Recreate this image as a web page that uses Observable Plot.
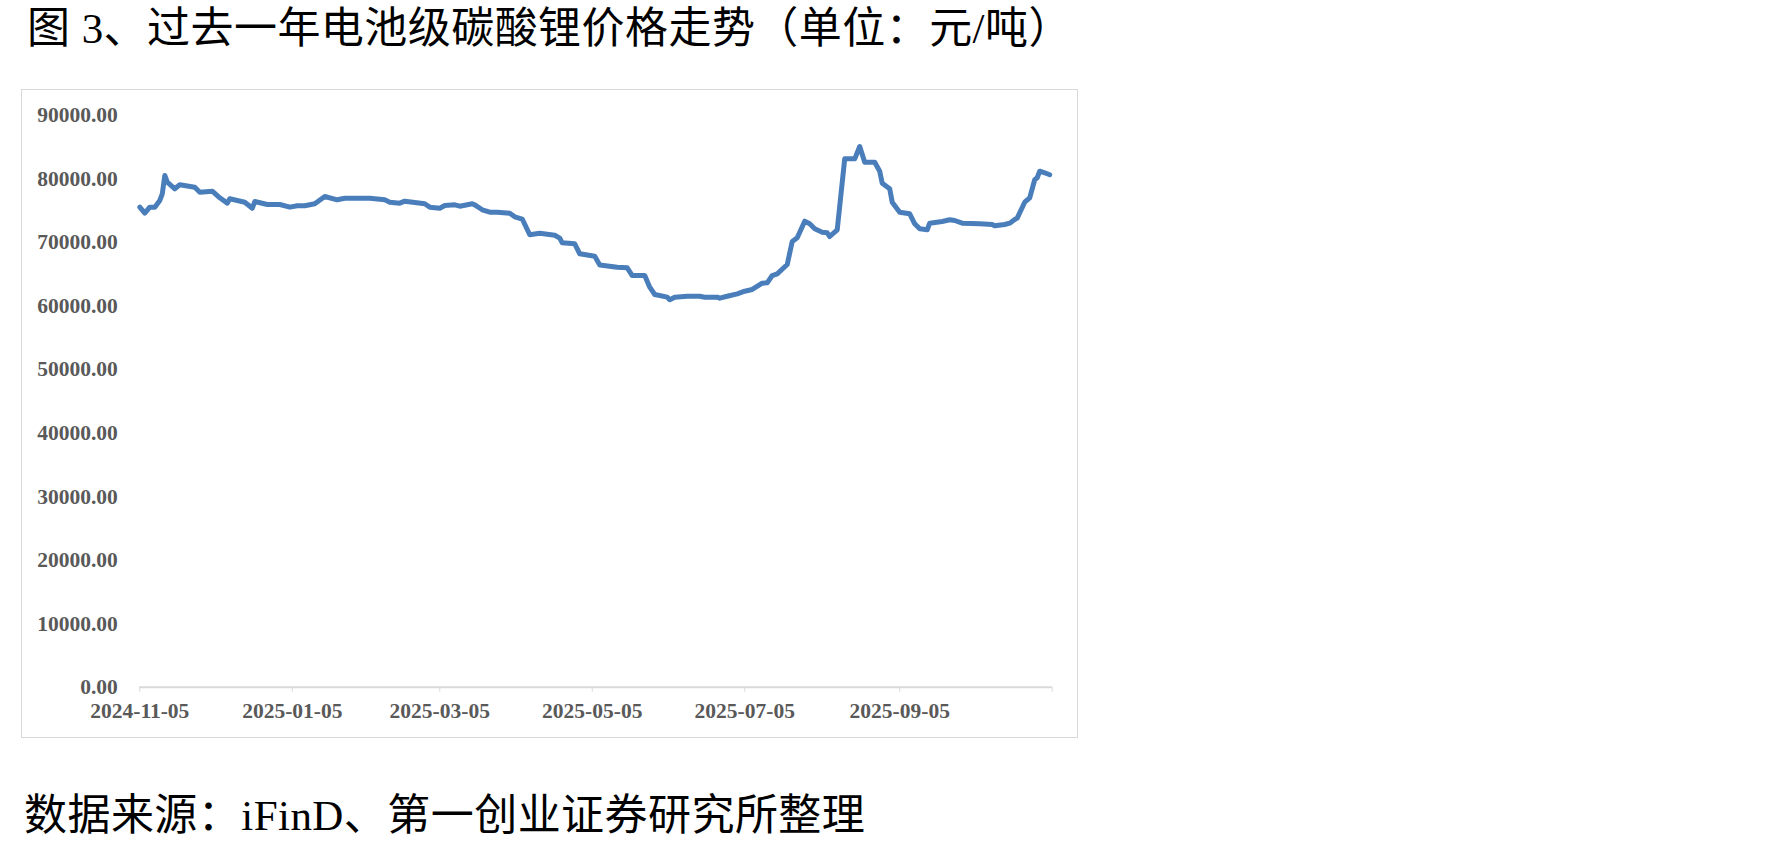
<!DOCTYPE html>
<html><head><meta charset="utf-8">
<script src="https://cdn.jsdelivr.net/npm/d3@7"></script>
<script src="https://cdn.jsdelivr.net/npm/@observablehq/plot@0.6"></script>
<style>
body{margin:0;background:#fff;width:1778px;height:852px;position:relative;overflow:hidden;}
.txt{position:absolute;font-family:"Liberation Serif","Noto Sans CJK SC",serif;font-size:43px;letter-spacing:0.45px;line-height:1;white-space:nowrap;color:#000;}
#title{left:27px;top:7px;}
#caption{left:24px;top:794px;}
#frame{position:absolute;left:21px;top:89px;width:1057px;height:649px;box-sizing:border-box;border:1.5px solid #d9d9d9;}
#chart{position:absolute;left:22px;top:90px;}
</style></head>
<body>
<div id="title" class="txt">图 3、过去一年电池级碳酸锂价格走势（单位：元/吨）</div>
<div id="frame"></div>
<div id="chart"></div>
<div id="caption" class="txt">数据来源：iFinD、第一创业证券研究所整理</div>
<script>
const dates = ["2024-11-05","2024-11-07","2024-11-09","2024-11-11","2024-11-13","2024-11-14","2024-11-15","2024-11-16","2024-11-19","2024-11-21","2024-11-27","2024-11-29","2024-12-04","2024-12-07","2024-12-10","2024-12-11","2024-12-17","2024-12-20","2024-12-21","2024-12-26","2024-12-31","2025-01-04","2025-01-07","2025-01-10","2025-01-14","2025-01-18","2025-01-23","2025-01-26","2025-02-05","2025-02-11","2025-02-13","2025-02-17","2025-02-19","2025-02-27","2025-03-01","2025-03-05","2025-03-07","2025-03-11","2025-03-13","2025-03-18","2025-03-19","2025-03-22","2025-03-25","2025-03-28","2025-04-02","2025-04-04","2025-04-07","2025-04-10","2025-04-14","2025-04-20","2025-04-22","2025-04-23","2025-04-28","2025-04-30","2025-05-06","2025-05-08","2025-05-15","2025-05-19","2025-05-21","2025-05-26","2025-05-28","2025-05-30","2025-06-04","2025-06-05","2025-06-07","2025-06-12","2025-06-17","2025-06-19","2025-06-24","2025-06-25","2025-06-28","2025-07-02","2025-07-05","2025-07-08","2025-07-12","2025-07-14","2025-07-16","2025-07-18","2025-07-22","2025-07-24","2025-07-26","2025-07-29","2025-07-31","2025-08-02","2025-08-05","2025-08-07","2025-08-08","2025-08-11","2025-08-14","2025-08-18","2025-08-20","2025-08-22","2025-08-26","2025-08-28","2025-08-29","2025-09-01","2025-09-02","2025-09-05","2025-09-09","2025-09-11","2025-09-13","2025-09-16","2025-09-17","2025-09-22","2025-09-25","2025-09-27","2025-09-30","2025-10-07","2025-10-12","2025-10-13","2025-10-17","2025-10-19","2025-10-21","2025-10-22","2025-10-25","2025-10-27","2025-10-29","2025-10-30","2025-10-31","2025-11-02","2025-11-04"];
const prices = [75570,74620,75570,75570,76620,77680,80560,79500,78460,79090,78710,77930,78090,77040,76200,76890,76350,75400,76460,75990,75990,75570,75790,75790,76100,77250,76730,76980,76980,76730,76350,76200,76510,76100,75570,75410,75830,75940,75720,76100,75940,75160,74780,74780,74620,74050,73700,71220,71470,71150,70690,69950,69800,68230,67850,66470,66120,66020,64810,64810,62970,61820,61400,60990,61400,61550,61550,61400,61400,61240,61550,61930,62340,62610,63600,63660,64810,65080,66540,70160,70750,73360,72950,72160,71630,71530,70950,72010,83180,83180,85120,82650,82650,81230,79340,78460,76350,74780,74520,72950,72160,72010,73050,73310,73580,73470,73050,72950,72840,72630,72840,73050,73630,73840,76350,77040,79880,80200,81230,80980,80670];
const xTickDates = ["2024-11-05","2025-01-05","2025-03-05","2025-05-05","2025-07-05","2025-09-05","2025-11-05"];
const xTickLabels = ["2024-11-05","2025-01-05","2025-03-05","2025-05-05","2025-07-05","2025-09-05",""];
const yTicks = [0,10000,20000,30000,40000,50000,60000,70000,80000,90000];

const data = dates.map((d,i)=>({date:new Date(d), price:prices[i]}));
const fmt = d3.utcFormat("%Y-%m-%d");
const labelOf = d => { const k = xTickDates.indexOf(fmt(d)); return k>=0 ? xTickLabels[k] : ""; };

const chart = Plot.plot({
  width:1055, height:647,
  marginLeft:117.3, marginRight:25.3, marginTop:25, marginBottom:50.3,
  x:{type:"utc", domain:[new Date(xTickDates[0]), new Date(xTickDates[xTickDates.length-1])]},
  y:{domain:[0,90000]},
  style:{fontFamily:"'Liberation Serif', serif", fontSize:"21.5px", fontWeight:"bold", background:"transparent", overflow:"visible"},
  marks:[
    Plot.axisY({ticks:yTicks, tickSize:0, tickPadding:22, tickFormat:d=>d.toFixed(2), label:null, fill:"#595959"}),
    Plot.axisX({ticks:xTickDates.map(d=>new Date(d)), tickSize:5, tickPadding:11, tickFormat:labelOf, label:null, stroke:"#d9d9d9", fill:"#595959"}),
    Plot.ruleY([0], {stroke:"#d9d9d9", strokeWidth:2}),
    Plot.lineY(data, {x:"date", y:"price", stroke:"#4a7ebb", strokeWidth:5, strokeLinejoin:"round", strokeLinecap:"round"})
  ]
});
document.getElementById("chart").appendChild(chart);
</script>
</body></html>
